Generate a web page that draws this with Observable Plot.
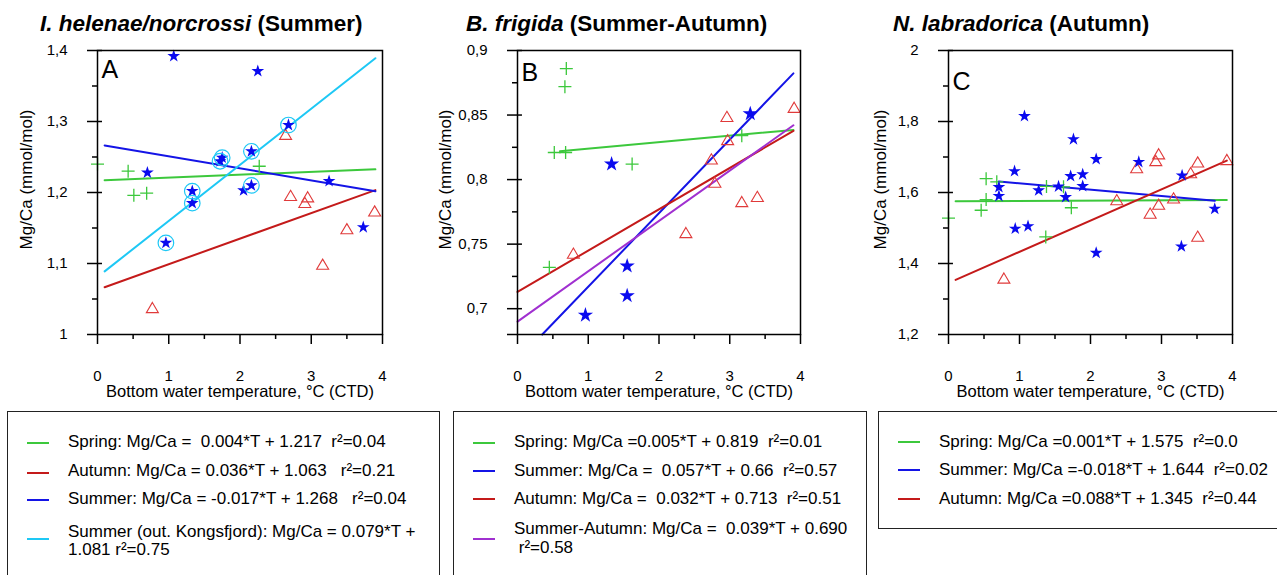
<!DOCTYPE html>
<html><head><meta charset="utf-8">
<script src="https://cdn.jsdelivr.net/npm/d3@7"></script>
<script src="https://cdn.jsdelivr.net/npm/@observablehq/plot@0.6"></script>
<style>
body{margin:0;background:#fff;width:1277px;height:575px;overflow:hidden;position:relative;font-family:"Liberation Sans",Arial,sans-serif;color:#000;}
.title{position:absolute;font-weight:bold;font-size:22.5px;line-height:22px;white-space:nowrap;}
.panel{position:absolute;}
.legend{position:absolute;border:1.5px solid #222;box-sizing:border-box;background:#fff;}
.row{position:absolute;font-size:17px;line-height:18.5px;white-space:pre;}
.sw{position:absolute;height:2px;width:22px;}
</style></head><body>
<script>
// ---------- DATA ----------
const titleSpecies = ["I. helenae/norcrossi", "B. frigida", "N. labradorica"];
const titleSeason = [" (Summer)", " (Summer-Autumn)", " (Autumn)"];
const panelLetters = ["A", "B", "C"];
const xTitle = "Bottom water temperature, °C (CTD)";
const yTitle = "Mg/Ca (mmol/mol)";
const xMajor = [0, 1, 2, 3, 4];
const xMinor = [0.5, 1.5, 2.5, 3.5];

// Panel A
const A_yMajor = [1, 1.1, 1.2, 1.3, 1.4];
const A_yLabels = ["1", "1,1", "1,2", "1,3", "1,4"];
const A_yMinor = [1.05, 1.15, 1.25, 1.35];
const A_spring_T = [0.0, 0.43, 0.51, 0.69, 2.27];
const A_spring_Mg = [1.240, 1.230, 1.196, 1.199, 1.237];
const A_summer_T = [1.07, 2.25, 2.68, 2.16, 1.75, 1.72, 0.70, 1.33, 1.33, 2.16, 2.05, 0.96, 3.25, 3.73];
const A_summer_Mg = [1.392, 1.371, 1.295, 1.258, 1.249, 1.244, 1.228, 1.202, 1.185, 1.210, 1.203, 1.129, 1.216, 1.151];
const A_outKongs_T = [2.68, 2.16, 1.75, 1.72, 1.33, 1.33, 2.16, 0.96];
const A_outKongs_Mg = [1.295, 1.258, 1.249, 1.244, 1.202, 1.185, 1.210, 1.129];
const A_autumn_T = [2.64, 2.71, 2.95, 2.91, 3.89, 3.50, 3.16, 0.77];
const A_autumn_Mg = [1.282, 1.196, 1.194, 1.186, 1.174, 1.149, 1.099, 1.038];
const A_fitSeries = ["Spring", "Autumn", "Summer", "Summer (out. Kongsfjord)"];
const A_fitSlope = [0.004, 0.036, -0.017, 0.079];
const A_fitIntercept = [1.217, 1.063, 1.268, 1.081];
const A_fitTmin = [0.1, 0.1, 0.1, 0.1];
const A_fitTmax = [3.9, 3.9, 3.9, 3.9];
const A_legend = ["Spring: Mg/Ca =  0.004*T + 1.217  r²=0.04", "Autumn: Mg/Ca = 0.036*T + 1.063   r²=0.21", "Summer: Mg/Ca = -0.017*T + 1.268   r²=0.04", "Summer (out. Kongsfjord): Mg/Ca = 0.079*T +\n1.081 r²=0.75"];

// Panel B
const B_yMajor = [0.68, 0.7, 0.75, 0.8, 0.85, 0.9];
const B_yLabels = ["", "0,7", "0,75", "0,8", "0,85", "0,9"];
const B_yMinor = [0.725, 0.775, 0.825, 0.875];
const B_spring_T = [0.69, 0.67, 0.52, 0.68, 1.62, 3.17, 0.45];
const B_spring_Mg = [0.886, 0.872, 0.821, 0.821, 0.812, 0.834, 0.732];
const B_summer_T = [3.29, 1.33, 1.55, 1.55, 0.96];
const B_summer_Mg = [0.851, 0.812, 0.733, 0.710, 0.695];
const B_autumn_T = [3.91, 2.96, 2.97, 2.74, 2.79, 3.17, 3.39, 2.38, 0.79];
const B_autumn_Mg = [0.856, 0.849, 0.831, 0.816, 0.798, 0.783, 0.787, 0.759, 0.743];
const B_fitSeries = ["Spring", "Summer", "Autumn", "Summer-Autumn"];
const B_fitSlope = [0.005, 0.057, 0.032, 0.039];
const B_fitIntercept = [0.819, 0.66, 0.713, 0.690];
const B_fitTmin = [0.6, 0.35, 0.0, 0.0];
const B_fitTmax = [3.9, 3.9, 3.9, 3.9];
const B_legend = ["Spring: Mg/Ca =0.005*T + 0.819  r²=0.01", "Summer: Mg/Ca =  0.057*T + 0.66  r²=0.57", "Autumn: Mg/Ca =  0.032*T + 0.713  r²=0.51", "Summer-Autumn: Mg/Ca =  0.039*T + 0.690\n r²=0.58"];

// Panel C
const C_yMajor = [1.2, 1.4, 1.6, 1.8, 2];
const C_yLabels = ["1,2", "1,4", "1,6", "1,8", "2"];
const C_yMinor = [1.3, 1.5, 1.7, 1.9];
const C_spring_T = [0.0, 0.53, 0.53, 0.46, 0.68, 1.38, 1.62, 1.73, 1.37];
const C_spring_Mg = [1.528, 1.639, 1.580, 1.550, 1.630, 1.617, 1.616, 1.557, 1.475];
const C_summer_T = [1.07, 1.76, 2.08, 2.68, 0.93, 1.72, 1.89, 3.29, 0.71, 0.71, 1.27, 1.55, 1.89, 1.65, 3.75, 0.94, 1.12, 2.08, 3.28];
const C_summer_Mg = [1.815, 1.750, 1.694, 1.686, 1.660, 1.646, 1.651, 1.648, 1.615, 1.590, 1.606, 1.617, 1.618, 1.587, 1.554, 1.498, 1.505, 1.430, 1.448];
const C_autumn_T = [2.96, 2.92, 3.92, 3.51, 2.65, 3.41, 3.17, 2.37, 2.96, 2.84, 3.51, 0.78];
const C_autumn_Mg = [1.709, 1.690, 1.693, 1.686, 1.670, 1.656, 1.585, 1.580, 1.567, 1.542, 1.477, 1.359];
const C_fitSeries = ["Spring", "Summer", "Autumn"];
const C_fitSlope = [0.001, -0.018, 0.088];
const C_fitIntercept = [1.575, 1.644, 1.345];
const C_fitTmin = [0.1, 0.71, 0.1];
const C_fitTmax = [3.92, 3.75, 3.92];
const C_legend = ["Spring: Mg/Ca =0.001*T + 1.575  r²=0.0", "Summer: Mg/Ca =-0.018*T + 1.644  r²=0.02", "Autumn: Mg/Ca =0.088*T + 1.345  r²=0.44"];

// ---------- STYLE ----------
const seriesColor = {"Spring": "#3cc83c", "Summer": "#1414e6", "Autumn": "#c41a1a", "Summer (out. Kongsfjord)": "#1ec8f5", "Summer-Autumn": "#a030d0"};
const plusSym = {draw(ctx, size) {const r = Math.sqrt(size / Math.PI); ctx.moveTo(-r, 0); ctx.lineTo(r, 0); ctx.moveTo(0, -r); ctx.lineTo(0, r);}};
const triSym = {draw(ctx, size) {const r = Math.sqrt(size / Math.PI); ctx.moveTo(0, -0.85 * r); ctx.lineTo(r, 0.85 * r); ctx.lineTo(-r, 0.85 * r); ctx.closePath();}};
const zip = (T, M) => T.map((t, i) => ({T: t, Mg: M[i]}));
const comma = (ticks, labels) => { const m = new Map(ticks.map((t, i) => [t, labels[i]])); return d => m.get(d) ?? ""; };

function panel(o) {
  const marks = [];
  o.fitSeries.forEach((s, i) => {
    marks.push(Plot.line([o.fitTmin[i], o.fitTmax[i]], {x: t => t, y: t => o.fitSlope[i] * t + o.fitIntercept[i], stroke: seriesColor[s], strokeWidth: 2}));
  });
  if (o.autumn) marks.push(Plot.dot(o.autumn, {x: "T", y: "Mg", symbol: triSym, r: 6, stroke: "#e03a3a", strokeWidth: 1.1, fill: "none"}));
  if (o.spring) marks.push(Plot.dot(o.spring, {x: "T", y: "Mg", symbol: plusSym, r: 6.5, stroke: "#3cc83c", strokeWidth: 1.3, fill: "none"}));
  if (o.summer) marks.push(Plot.dot(o.summer, {x: "T", y: "Mg", symbol: "star", r: o.starR, fill: "#0a0aef", stroke: "none"}));
  if (o.circled) marks.push(Plot.dot(o.circled, {x: "T", y: "Mg", r: 7.8, stroke: "#1ec8f5", strokeWidth: 1.2, fill: "none"}));
  marks.push(
    Plot.axisX(xMajor, {tickSize: 10, tickPadding: 26, tickFormat: d => String(d), label: null, strokeWidth: 1.5}),
    Plot.axisX(xMinor, {tickSize: 5, tickFormat: () => "", label: null, strokeWidth: 1.5}),
    Plot.axisY(o.yMajor, {tickSize: 10, tickPadding: 20, tickFormat: comma(o.yMajor, o.yLabels), label: null, strokeWidth: 1.5}),
    Plot.axisY(o.yMinor, {tickSize: 5, tickFormat: () => "", label: null, strokeWidth: 1.5}),
    Plot.ruleY(o.yMajor.slice(1), {x1: 0, x2: 0.07, strokeWidth: 1.5}),
    Plot.frame({strokeWidth: 1.5}),
    Plot.text([o.letter], {frameAnchor: "top-left", dx: 4, dy: o.letterDy, lineAnchor: "top", textAnchor: "start", fontSize: 25}),
    Plot.text([xTitle], {frameAnchor: "bottom", dy: 51, lineAnchor: "top", fontSize: 16.5}),
    Plot.text([yTitle], {frameAnchor: "left", dx: -o.yTitleOff, dy: -13, rotate: -90, lineAnchor: "top", textAnchor: "middle", fontSize: 17})
  );
  const svg = Plot.plot({
    width: o.width, height: 370, marginLeft: o.ml, marginRight: o.mr, marginTop: 10, marginBottom: 76,
    x: {domain: [0, 4]}, y: {domain: o.yDomain},
    style: {background: "transparent", overflow: "visible", fontFamily: "Liberation Sans, Arial, sans-serif", fontSize: "15px", color: "black"},
    marks
  });
  const div = document.createElement("div");
  div.className = "panel";
  div.style.left = o.left + "px"; div.style.top = "40px"; div.style.width = o.width + "px";
  div.appendChild(svg);
  document.body.appendChild(div);
}

panel({left: 0, width: 440, ml: 97, mr: 58, yDomain: [1, 1.4], yMajor: A_yMajor, yLabels: A_yLabels, yMinor: A_yMinor,
  letter: panelLetters[0], letterDy: 10, yTitleOff: 78, starR: 4.0,
  spring: zip(A_spring_T, A_spring_Mg), summer: zip(A_summer_T, A_summer_Mg), autumn: zip(A_autumn_T, A_autumn_Mg), circled: zip(A_outKongs_T, A_outKongs_Mg),
  fitSeries: A_fitSeries, fitSlope: A_fitSlope, fitIntercept: A_fitIntercept, fitTmin: A_fitTmin, fitTmax: A_fitTmax});
panel({left: 430, width: 430, ml: 87, mr: 60, yDomain: [0.68, 0.9], yMajor: B_yMajor, yLabels: B_yLabels, yMinor: B_yMinor,
  letter: panelLetters[1], letterDy: 13, yTitleOff: 79, starR: 4.8,
  spring: zip(B_spring_T, B_spring_Mg), summer: zip(B_summer_T, B_summer_Mg), autumn: zip(B_autumn_T, B_autumn_Mg),
  fitSeries: B_fitSeries, fitSlope: B_fitSlope, fitIntercept: B_fitIntercept, fitTmin: B_fitTmin, fitTmax: B_fitTmax});
panel({left: 860, width: 417, ml: 88, mr: 45, yDomain: [1.2, 2], yMajor: C_yMajor, yLabels: C_yLabels, yMinor: C_yMinor,
  letter: panelLetters[2], letterDy: 22, yTitleOff: 75, starR: 4.0,
  spring: zip(C_spring_T, C_spring_Mg), summer: zip(C_summer_T, C_summer_Mg), autumn: zip(C_autumn_T, C_autumn_Mg),
  fitSeries: C_fitSeries, fitSlope: C_fitSlope, fitIntercept: C_fitIntercept, fitTmin: C_fitTmin, fitTmax: C_fitTmax});

// Titles
[40, 466, 893].forEach((left, i) => {
  const t = document.createElement("div");
  t.className = "title"; t.style.left = left + "px"; t.style.top = "13px";
  const it = document.createElement("i"); it.textContent = titleSpecies[i];
  t.appendChild(it); t.appendChild(document.createTextNode(titleSeason[i]));
  document.body.appendChild(t);
});

// Legends
function legend(box, series, texts, rows) {
  const d = document.createElement("div");
  d.className = "legend";
  Object.assign(d.style, {left: box[0] + "px", top: box[1] + "px", width: box[2] + "px", height: box[3] + "px"});
  document.body.appendChild(d);
  series.forEach((s, i) => {
    const sw = document.createElement("div");
    sw.className = "sw"; sw.style.background = seriesColor[s];
    sw.style.left = rows.swX + "px"; sw.style.top = Math.round(rows.sw[i] - 1) + "px";
    document.body.appendChild(sw);
    const r = document.createElement("div");
    r.className = "row"; r.textContent = texts[i];
    r.style.left = rows.textX + "px"; r.style.top = rows.text[i] + "px";
    document.body.appendChild(r);
  });
}
legend([6.5, 410.5, 433, 200], A_fitSeries, A_legend, {swX: 27, textX: 68, sw: [443, 472.7, 500, 539.3], text: [433.3, 462.2, 489.8, 522.5]});
legend([453, 410.5, 414, 200], B_fitSeries, B_legend, {swX: 473, textX: 514, sw: [442.7, 471, 499.3, 539.3], text: [433, 461.8, 490, 520]});
legend([878, 410.5, 420, 118], C_fitSeries, C_legend, {swX: 898, textX: 939, sw: [441.7, 470, 499], text: [432.7, 461, 490]});
</script>
</body></html>
